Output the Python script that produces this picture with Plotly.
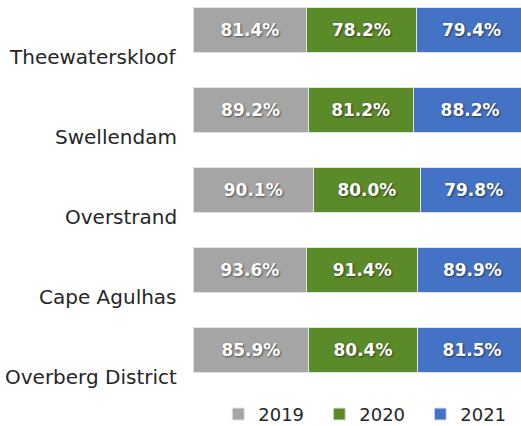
import plotly.graph_objects as go

categories = ["Overberg District", "Cape Agulhas", "Overstrand", "Swellendam", "Theewaterskloof"]
series_names = ["2019", "2020", "2021"]
values_2019 = [85.9, 93.6, 90.1, 89.2, 81.4]
values_2020 = [80.4, 91.4, 80.0, 81.2, 78.2]
values_2021 = [81.5, 89.9, 79.8, 88.2, 79.4]
colors = ["#A5A5A5", "#5B8A29", "#4472C4"]

fig = go.Figure()
for name, vals, col in zip(series_names, [values_2019, values_2020, values_2021], colors):
    fig.add_trace(go.Bar(
        y=categories, x=vals, name=name, orientation="h",
        marker=dict(color=col, line=dict(color="#E3E3E3", width=1)),
        text=[f"{v:.1f}%" for v in vals],
        textposition="inside", insidetextanchor="middle",
        textfont=dict(family="DejaVu Sans", size=17, color="white", weight="bold",
                      shadow="1px 1px 2px rgba(0,0,0,0.55)"),
        hoverinfo="skip",
    ))

for c in categories:
    fig.add_annotation(x=0, xref="paper", xanchor="right", xshift=-14,
                       y=c, yref="y", yshift=-27, yanchor="middle",
                       text=c, showarrow=False,
                       font=dict(family="DejaVu Sans", size=20, color="#262626"))

fig.update_layout(
    width=521, height=426,
    margin=dict(l=193, r=0, t=0, b=36, autoexpand=False),
    barmode="stack", barnorm="percent", bargap=0.432,
    plot_bgcolor="white", paper_bgcolor="white",
    xaxis=dict(range=[0, 98.2], visible=False, fixedrange=True),
    yaxis=dict(range=[-0.5, 4.375], showticklabels=False, showgrid=False,
               zeroline=False, showline=False, ticks="", fixedrange=True),
    showlegend=True,
    legend=dict(orientation="h", x=0.077, xanchor="left", y=-0.015, yanchor="top",
                font=dict(family="DejaVu Sans", size=18, color="#262626"),
                entrywidth=56, traceorder="normal"),
)

fig.write_html("out.html", config={"displayModeBar": False, "staticPlot": True},
               post_script="document.body.style.margin='0';document.body.style.overflow='hidden';")
